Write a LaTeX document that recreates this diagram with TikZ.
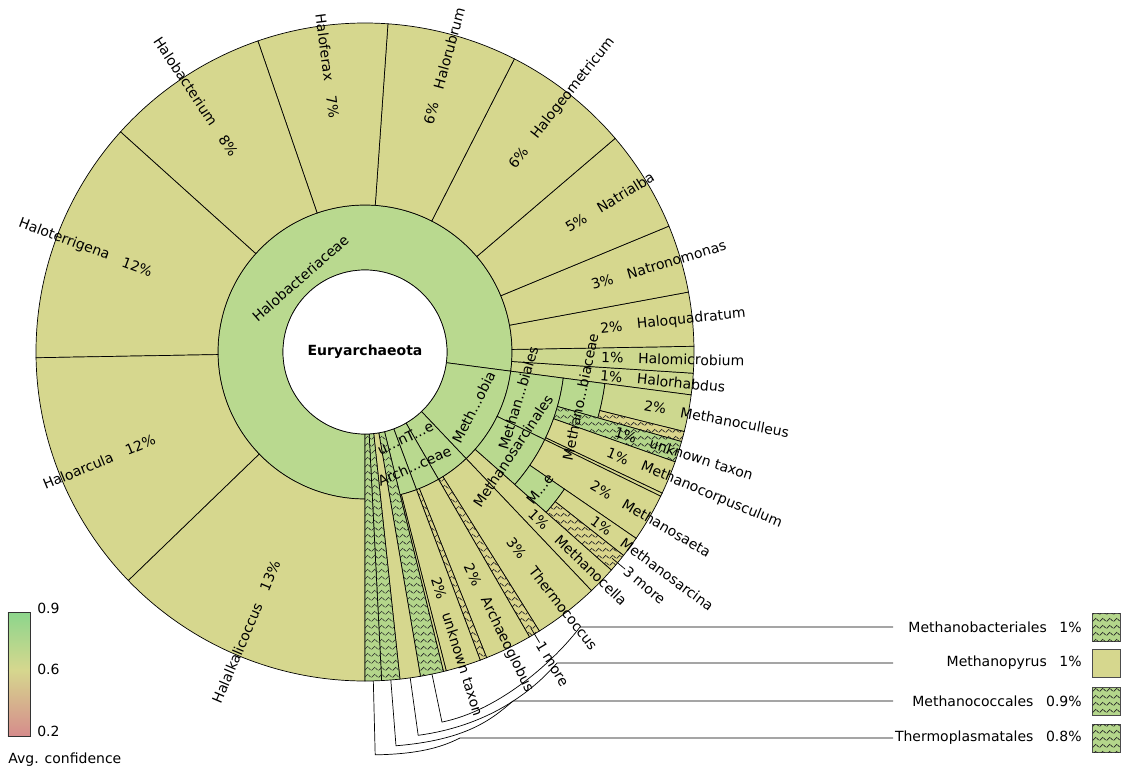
\documentclass[tikz,border=0pt]{standalone}
\usepackage{fontspec}
\setmainfont{DejaVu Sans}
\usetikzlibrary{patterns}
\definecolor{krgreen}{RGB}{185,217,143}
\definecolor{kryellow}{RGB}{214,215,142}
\definecolor{krolive}{RGB}{205,216,143}
\definecolor{krhgreen}{RGB}{180,214,139}
\definecolor{krhyellow}{RGB}{218,213,140}
\definecolor{krhigh}{RGB}{140,214,140}
\definecolor{krlow}{RGB}{214,140,140}

% dashed hatching for unassigned wedges
\pgfdeclarepatternformonly{krhatch}{\pgfpoint{-1pt}{-1pt}}{\pgfpoint{8pt}{8pt}}{\pgfpoint{7pt}{7pt}}{%
  \pgfsetlinewidth{0.7pt}%
  \pgfpathmoveto{\pgfpoint{0.5pt}{0.5pt}}\pgfpathlineto{\pgfpoint{4pt}{4pt}}%
  \pgfpathmoveto{\pgfpoint{4.5pt}{3pt}}\pgfpathlineto{\pgfpoint{6.5pt}{1pt}}%
  \pgfusepath{stroke}}

% ring sector: style, start angle, end angle, inner radius, outer radius
\newcommand{\sector}[5]{\path[#1] (#2:#4) arc[start angle=#2, end angle=#3, radius=#4] -- (#3:#5) arc[start angle=#3, end angle=#2, radius=#5] -- cycle;}

\begin{document}
\begin{tikzpicture}[x=1pt, y=1pt, line width=0.7pt,
    every node/.style={font=\fontsize{14}{16}\selectfont, inner sep=0pt},
    rank/.style={draw, fill=krgreen},
    leaf/.style={draw, fill=kryellow},
    leafg/.style={draw, fill=krolive},
    hidg/.style={draw, fill=krhgreen, postaction={pattern=krhatch, pattern color=black!85}},
    hidy/.style={draw, fill=krhyellow, postaction={pattern=krhatch, pattern color=black!85}},
    keybox/.style={draw=black!70, minimum size=28pt}
  ]
  \useasboundingbox (-365,-417) rectangle (757,352);

  % Halobacteriaceae
  \sector{rank}{-7.5}{270}{82}{147}
  \sector{leafg}{-7.5}{-3.7}{147}{329}
  \sector{leafg}{-3.7}{1}{147}{329}
  \sector{leaf}{1}{10.5}{147}{329}
  \sector{leaf}{10.5}{22.5}{147}{329}
  \sector{leaf}{22.5}{40.5}{147}{329}
  \sector{leaf}{40.5}{63}{147}{329}
  \sector{leaf}{63}{86}{147}{329}
  \sector{leaf}{86}{109}{147}{329}
  \sector{leaf}{109}{138}{147}{329}
  \sector{leaf}{138}{181}{147}{329}
  \sector{leaf}{181}{224}{147}{329}
  \sector{leaf}{224}{270}{147}{329}

  % Methanomicrobia
  \sector{rank}{-46.5}{-7.5}{82}{147}
  \sector{rank}{-26}{-7.5}{147}{200}
  \sector{rank}{-41.5}{-26}{147}{200}
  \sector{leaf}{-46.5}{-41.5}{147}{329}
  \sector{rank}{-15.8}{-7.5}{200}{242}
  \sector{leafg}{-14}{-7.5}{242}{329}
  \sector{hidy}{-15.8}{-14}{242}{329}
  \sector{hidg}{-19.5}{-15.8}{200}{329}
  \sector{leaf}{-25.4}{-19.5}{200}{329}
  \sector{leaf}{-26}{-25.4}{200}{329}
  \sector{leaf}{-34.5}{-26}{200}{329}
  \sector{rank}{-41.5}{-34.5}{200}{242}
  \sector{leaf}{-38.2}{-34.5}{242}{329}
  \sector{hidy}{-41.5}{-38.2}{242}{329}

  % Thermococci, Archaeoglobi, Thermoplasmata
  \sector{rank}{-60}{-46.5}{82}{147}
  \sector{leaf}{-58}{-46.5}{147}{329}
  \sector{hidy}{-60}{-58}{147}{329}
  \sector{rank}{-69.5}{-60}{82}{147}
  \sector{rank}{-76.2}{-69.5}{82}{147}
  \sector{leaf}{-68.3}{-60}{147}{329}
  \sector{hidy}{-69.5}{-68.3}{147}{329}
  \sector{leaf}{-75.7}{-69.5}{147}{329}
  \sector{leaf}{-76.2}{-75.7}{147}{329}

  % small orders
  \sector{hidg}{-80.3}{-76.2}{82}{329}
  \sector{leaf}{-83.9}{-80.3}{82}{329}
  \sector{hidg}{-87.1}{-83.9}{82}{329}
  \sector{hidg}{-90}{-87.1}{82}{329}

  \node[circle, draw, fill=white, minimum size=164pt, font=\fontsize{14}{16}\selectfont\bfseries] (root) at (0,0) {Euryarchaeota};

  % inner labels
  \node[rotate=41.25] (halobacteriaceae) at (131.25:98) {Halobacteriaceae};
  \node[rotate=63] (methanomicrobia) at (-27:122) {Meth...obia};
  \node[rotate=73.25] (methanomicrobiales) at (-16.75:160) {Methan...biales};
  \node[rotate=56.25] (methanosarcinales) at (-33.75:178) {Methanosarcinales};
  \node[rotate=78.25] (methanomicrobiaceae) at (-11.75:220) {Methano...biaceae};
  \node[rotate=52] (methanosarcinaceae) at (-38:222) {M...e};
  \node[rotate=25.2] (thermoplasmata) at (-64.8:95) {u...nT...e};
  \node[rotate=23.5] (archaeoglobaceae) at (-66.5:124) {Arch...ceae};

  % genus labels
  \node[rotate=-5.6, anchor=east] (halorhabdus-p) at (-5.6:259) {1\%};
  \node[rotate=-5.6, anchor=west] (halorhabdus) at (-5.6:273) {Halorhabdus};
  \node[rotate=-1.35, anchor=east] (halomicrobium-p) at (-1.35:259) {1\%};
  \node[rotate=-1.35, anchor=west] (halomicrobium) at (-1.35:273) {Halomicrobium};
  \node[rotate=5.75, anchor=east] (haloquadratum-p) at (5.75:259) {2\%};
  \node[rotate=5.75, anchor=west] (haloquadratum) at (5.75:273) {Haloquadratum};
  \node[rotate=16.5, anchor=east] (natronomonas-p) at (16.5:259) {3\%};
  \node[rotate=16.5, anchor=west] (natronomonas) at (16.5:273) {Natronomonas};
  \node[rotate=31.5, anchor=east] (natrialba-p) at (31.5:259) {5\%};
  \node[rotate=31.5, anchor=west] (natrialba) at (31.5:273) {Natrialba};
  \node[rotate=51.75, anchor=east] (halogeometricum-p) at (51.75:259) {6\%};
  \node[rotate=51.75, anchor=west] (halogeometricum) at (51.75:273) {Halogeometricum};
  \node[rotate=74.5, anchor=east] (halorubrum-p) at (74.5:259) {6\%};
  \node[rotate=74.5, anchor=west] (halorubrum) at (74.5:273) {Halorubrum};
  \node[rotate=-82.5, anchor=west] (haloferax-p) at (97.5:259) {7\%};
  \node[rotate=-82.5, anchor=east] (haloferax) at (97.5:273) {Haloferax};
  \node[rotate=-56.5, anchor=west] (halobacterium-p) at (123.5:259) {8\%};
  \node[rotate=-56.5, anchor=east] (halobacterium) at (123.5:273) {Halobacterium};
  \node[rotate=-20.5, anchor=west] (haloterrigena-p) at (159.5:259) {12\%};
  \node[rotate=-20.5, anchor=east] (haloterrigena) at (159.5:273) {Haloterrigena};
  \node[rotate=22.5, anchor=west] (haloarcula-p) at (202.5:259) {12\%};
  \node[rotate=22.5, anchor=east] (haloarcula) at (202.5:273) {Haloarcula};
  \node[rotate=67, anchor=west] (halalkalicoccus-p) at (247:259) {13\%};
  \node[rotate=67, anchor=east] (halalkalicoccus) at (247:273) {Halalkalicoccus};

  \node[rotate=-10.75, anchor=east] (methanoculleus-p) at (-10.75:307) {2\%};
  \node[rotate=-10.75, anchor=west] (methanoculleus) at (-10.75:321) {Methanoculleus};
  \node[rotate=-17.65, anchor=east] (unknown1-p) at (-17.65:285) {1\%};
  \node[rotate=-17.65, anchor=west] (unknown1) at (-17.65:299) {unknown taxon};
  \node[rotate=-22.45, anchor=east] (methanocorpusculum-p) at (-22.45:285) {1\%};
  \node[rotate=-22.45, anchor=west] (methanocorpusculum) at (-22.45:299) {Methanocorpusculum};
  \node[rotate=-30.25, anchor=east] (methanosaeta-p) at (-30.25:285) {2\%};
  \node[rotate=-30.25, anchor=west] (methanosaeta) at (-30.25:299) {Methanosaeta};
  \node[rotate=-36.35, anchor=east] (methanosarcina-p) at (-36.35:305) {1\%};
  \node[rotate=-36.35, anchor=west] (methanosarcina) at (-36.35:319) {Methanosarcina};
  \node[rotate=-44, anchor=east] (methanocella-p) at (-44:253) {1\%};
  \node[rotate=-44, anchor=west] (methanocella) at (-44:267) {Methanocella};
  \node[rotate=-52.25, anchor=east] (thermococcus-p) at (-52.25:259) {3\%};
  \node[rotate=-52.25, anchor=west] (thermococcus) at (-52.25:273) {Thermococcus};
  \node[rotate=-64.15, anchor=east] (archaeoglobus-p) at (-64.15:259) {2\%};
  \node[rotate=-64.15, anchor=west] (archaeoglobus) at (-64.15:273) {Archaeoglobus};
  \node[rotate=-72.6, anchor=east] (unknown2-p) at (-72.6:259) {2\%};
  \node[rotate=-72.6, anchor=west] (unknown2) at (-72.6:273) {unknown taxon};

  \coordinate (more3-t) at (-39.85:322);
  \node[rotate=-39.85, anchor=west] (more3) at (-39.85:339) {3 more};
  \draw (more3-t) -- (more3);
  \coordinate (more1-t) at (-59:322);
  \node[rotate=-59, anchor=west] (more1) at (-59:339) {1 more};
  \draw (more1-t) -- (more1);

  % key
  \coordinate (mbac-w) at (-78.25:329);
  \coordinate (mbac-r) at (-78.25:378);
  \coordinate (kend1) at (528,-275);
  \node[anchor=east] (mbac-key) at (717,-275) {Methanobacteriales\hspace{0.9em}1\%};
  \node[hidg, keybox] (mbac-box) at (741,-275) {};
  \draw (mbac-w) -- (mbac-r) .. controls (136,-358) and (191,-307) .. (215,-275) -- (kend1);

  \coordinate (mpyr-w) at (-82.1:329);
  \coordinate (mpyr-r) at (-82.1:387);
  \coordinate (kend2) at (528,-311);
  \node[anchor=east] (mpyr-key) at (717,-311) {Methanopyrus\hspace{0.9em}1\%};
  \node[leaf, keybox] (mpyr-box) at (741,-311) {};
  \draw (mpyr-w) -- (mpyr-r) .. controls (122,-374) and (166,-341) .. (192,-311) -- (kend2);

  \coordinate (mcoc-w) at (-85.5:329);
  \coordinate (mcoc-r) at (-85.5:395);
  \coordinate (kend3) at (528,-349);
  \node[anchor=east] (mcoc-key) at (717,-349) {Methanococcales\hspace{0.9em}0.9\%};
  \node[hidg, keybox] (mcoc-box) at (741,-349) {};
  \draw (mcoc-w) -- (mcoc-r) .. controls (101,-388) and (126,-368) .. (148,-349) -- (kend3);

  \coordinate (tpla-w) at (-88.55:329);
  \coordinate (tpla-r) at (-88.55:403);
  \coordinate (kend4) at (528,-386);
  \node[anchor=east] (tpla-key) at (717,-386) {Thermoplasmatales\hspace{0.9em}0.8\%};
  \node[hidg, keybox] (tpla-box) at (741,-386) {};
  \draw (tpla-w) -- (tpla-r) .. controls (55,-402) and (77,-395) .. (95,-386) -- (kend4);

  % confidence scale
  \shade[top color=krhigh, bottom color=kryellow] (-357,-318) rectangle (-335,-260);
  \shade[top color=kryellow, bottom color=krlow] (-357,-384) rectangle (-335,-318);
  \draw[black!80] (-357,-384) rectangle (-335,-260);
  \node[anchor=west] (c-high) at (-328,-256) {0.9};
  \node[anchor=west] (c-mid) at (-328,-317) {0.6};
  \node[anchor=west] (c-low) at (-328,-379) {0.2};
  \node[anchor=west] (c-title) at (-357,-408) {Avg. confidence};
\end{tikzpicture}
\end{document}
